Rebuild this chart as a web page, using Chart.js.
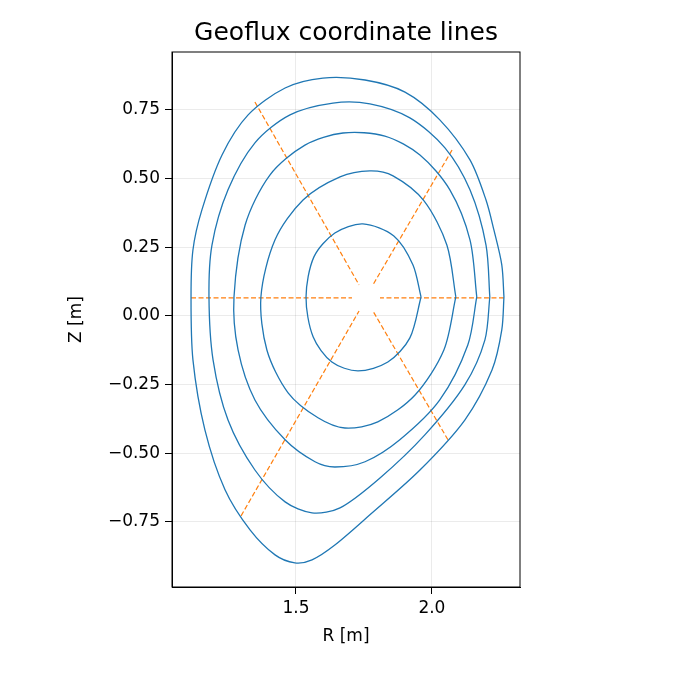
<!DOCTYPE html>
<html><head><script src="https://cdn.jsdelivr.net/npm/chart.js@4"></script>
<style>body{margin:0;background:#fff}</style></head><body>
<canvas id="c" width="675" height="675"></canvas>
<script>
const c1R=[1.960,1.930,1.860,1.746,1.643,1.566,1.537,1.563,1.632,1.728,1.838,1.919,1.960];
const c1Z=[0.069,0.186,0.291,0.335,0.302,0.215,0.069,-0.076,-0.168,-0.200,-0.168,-0.080,0.069];
const c2R=[2.088,2.055,1.971,1.857,1.772,1.662,1.526,1.423,1.371,1.393,1.471,1.581,1.680,1.801,1.938,2.044,2.088];
const c2Z=[0.069,0.258,0.419,0.510,0.528,0.506,0.422,0.277,0.069,-0.124,-0.280,-0.371,-0.408,-0.386,-0.288,-0.124,0.069];
const c3R=[2.165,2.140,2.066,1.956,1.827,1.673,1.533,1.404,1.313,1.272,1.287,1.349,1.460,1.570,1.643,1.754,1.882,2.029,2.132,2.165];
const c3Z=[0.069,0.277,0.459,0.586,0.655,0.666,0.622,0.513,0.331,0.069,-0.124,-0.306,-0.451,-0.531,-0.550,-0.531,-0.451,-0.306,-0.106,0.069];
const c4R=[2.213,2.199,2.140,2.048,1.919,1.772,1.636,1.478,1.349,1.250,1.191,1.180,1.195,1.250,1.349,1.460,1.559,1.662,1.809,1.974,2.121,2.195,2.213];
const c4Z=[0.069,0.258,0.459,0.612,0.721,0.772,0.775,0.732,0.630,0.459,0.258,0.069,-0.160,-0.379,-0.561,-0.677,-0.717,-0.699,-0.590,-0.433,-0.251,-0.087,0.069];
const c5R=[2.265,2.257,2.228,2.199,2.140,2.029,1.901,1.754,1.599,1.460,1.324,1.228,1.154,1.121,1.114,1.121,1.165,1.239,1.331,1.423,1.496,1.559,1.643,1.772,1.956,2.121,2.221,2.257,2.265];
const c5Z=[0.069,0.186,0.313,0.422,0.568,0.714,0.815,0.859,0.866,0.830,0.732,0.586,0.386,0.240,0.069,-0.160,-0.415,-0.633,-0.779,-0.870,-0.899,-0.888,-0.834,-0.724,-0.561,-0.379,-0.197,-0.051,0.069];
// rays: [R_outer, Z_outer, R_inner, Z_inner]
const rays=[[1.114,0.066,1.706,0.066],[2.265,0.066,1.809,0.066],[1.349,0.779,1.732,0.113],[2.074,0.604,1.783,0.113],[1.298,-0.728,1.732,0.018],[2.059,-0.451,1.783,0.018]];
const xTicks=[1.5,2.0];
const yTicks=[-0.75,-0.5,-0.25,0,0.25,0.5,0.75];
const mk=(R,Z)=>R.map((r,i)=>({x:r,y:Z[i]}));
const ds=[[c1R,c1Z],[c2R,c2Z],[c3R,c3Z],[c4R,c4Z],[c5R,c5Z]].map(([R,Z])=>({data:mk(R,Z),borderColor:'#1f77b4',borderWidth:1.3,showLine:true,pointRadius:0,tension:0.3,fill:false}));
rays.forEach(r=>ds.push({data:[{x:r[0],y:r[1]},{x:r[2],y:r[3]}],borderColor:'#ff7f0e',borderWidth:1.2,borderDash:[5,2.5],showLine:true,pointRadius:0,fill:false}));
const font={family:'DejaVu Sans',size:17};
new Chart(document.getElementById('c'),{type:'scatter',data:{datasets:ds},options:{
responsive:false,animation:false,devicePixelRatio:1,
layout:{padding:{left:62,right:155,top:52,bottom:24}},
plugins:{legend:{display:false},tooltip:{enabled:false},title:{display:false}},
scales:{
x:{type:'linear',min:1.044,max:2.324,afterBuildTicks:a=>{a.ticks=xTicks.map(v=>({value:v}))},afterFit:a=>{a.height=64},
 ticks:{color:'#000',font,callback:v=>v.toFixed(1),maxRotation:0,padding:4},grid:{color:'rgba(0,0,0,0.08)',tickColor:'#000',tickLength:7},border:{color:'#000'},
 title:{display:true,text:'R [m]',color:'#000',font,padding:{top:4}}},
y:{type:'linear',min:-0.987,max:0.961,afterBuildTicks:a=>{a.ticks=yTicks.map(v=>({value:v}))},afterFit:a=>{a.width=110},
 ticks:{color:'#000',font,callback:v=>v.toFixed(2).replace('-','\u2212'),padding:5},grid:{color:'rgba(0,0,0,0.08)',tickColor:'#000',tickLength:7},border:{color:'#000'},
 title:{display:true,text:'Z [m]',color:'#000',font}}
}},plugins:[{id:'frame',afterDraw(ch){const a=ch.chartArea,g=ch.ctx;g.save();g.strokeStyle='#000';g.lineWidth=1;g.strokeRect(a.left,a.top,a.right-a.left,a.bottom-a.top);
g.fillStyle='#000';g.font='25px "DejaVu Sans"';g.textAlign='center';g.textBaseline='middle';g.fillText('Geoflux coordinate lines',(a.left+a.right)/2,33);g.restore();}}]});
</script></body></html>
